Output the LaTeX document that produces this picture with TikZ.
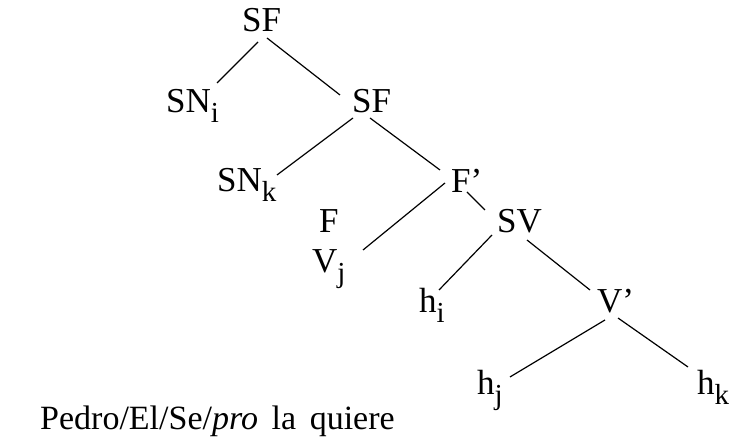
\documentclass[tikz,border=0pt]{standalone}
\usepackage{fontspec}
\setmainfont{Liberation Serif}
\newcommand\sbs[1]{\raisebox{-10pt}{\fontsize{29}{29}\selectfont #1}}
\begin{document}
\begin{tikzpicture}[x=1pt,y=-1pt,
  lbl/.style={inner sep=0pt,anchor=base west,font=\fontsize{35}{40}\selectfont},
  edge/.style={line width=1.2pt}]
\useasboundingbox (0,0) rectangle (732,443);
\node[lbl] (sf1) at (242,32) {SF};
\node[lbl] (sni) at (166,113) {SN\sbs{i}};
\node[lbl] (sf2) at (352,113) {SF};
\node[lbl] (snk) at (217,192) {SN\sbs{k}};
\node[lbl] (fp) at (451,193) {F’};
\node[lbl] (f) at (319,233) {F};
\node[lbl] (vj) at (312,273) {V\sbs{j}};
\node[lbl] (sv) at (497,233) {SV};
\node[lbl] (hi) at (419,313) {h\sbs{i}};
\node[lbl] (vp) at (597,313) {V’};
\node[lbl] (hj) at (477,395) {h\sbs{j}};
\node[lbl] (hk) at (697,395) {h\sbs{k}};
\node[lbl,font=\fontsize{34}{40}\selectfont] (txt) at (40,430) {Pedro/El/Se/\textit{pro}\hspace{0.4em}la\hspace{0.4em}quiere};
\draw[edge] ([shift={(16,10)}]sf1.base west) -- ([shift={(51,-30)}]sni.base west);
\draw[edge] ([shift={(25,6)}]sf1.base west) -- ([shift={(-12,-18)}]sf2.base west);
\draw[edge] ([shift={(1,5)}]sf2.base west) -- ([shift={(60,-17)}]snk.base west);
\draw[edge] ([shift={(18,5)}]sf2.base west) -- ([shift={(-11,-23)}]fp.base west);
\draw[edge] ([shift={(-6,-10)}]fp.base west) -- ([shift={(51,-23)}]vj.base west);
\draw[edge] ([shift={(16,-1)}]fp.base west) -- ([shift={(-12,-23)}]sv.base west);
\draw[edge] ([shift={(-5,2)}]sv.base west) -- ([shift={(20,-23)}]hi.base west);
\draw[edge] ([shift={(30,7)}]sv.base west) -- ([shift={(-7,-23)}]vp.base west);
\draw[edge] ([shift={(8,7)}]vp.base west) -- ([shift={(33,-18)}]hj.base west);
\draw[edge] ([shift={(21,5)}]vp.base west) -- ([shift={(-9,-28)}]hk.base west);
\end{tikzpicture}
\end{document}
